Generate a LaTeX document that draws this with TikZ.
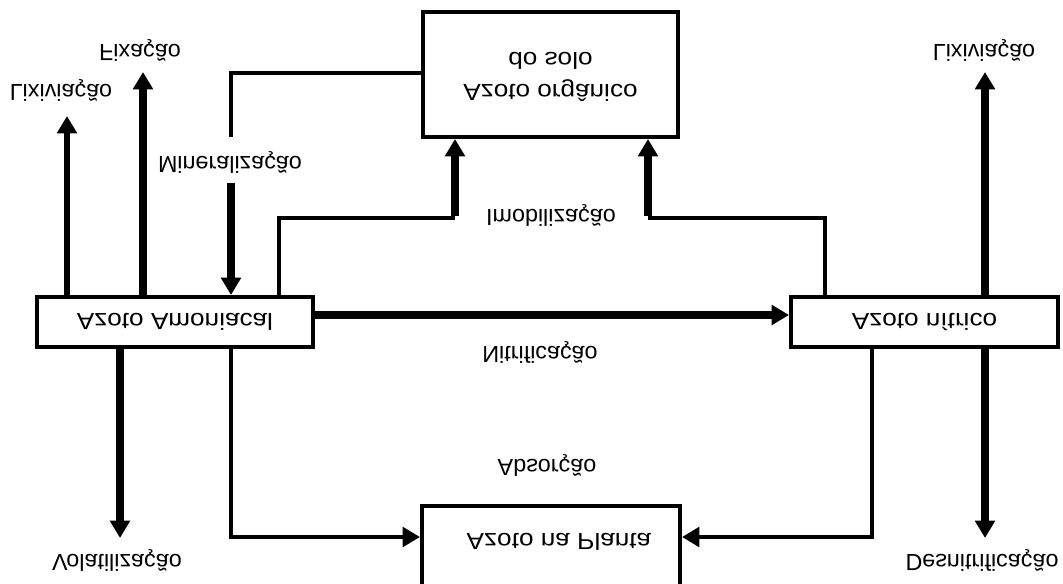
\documentclass[tikz,border=0pt]{standalone}
\usepackage{fontspec}
\setmainfont{Liberation Sans}
\usetikzlibrary{arrows.meta}
\newcommand{\fliptext}[1]{\scalebox{1}[-1]{#1}}
\newcommand{\flipwide}[1]{\scalebox{1.12}[-1]{#1}}
\begin{document}
\begin{tikzpicture}[x=0.75pt,y=-0.75pt,
  txt/.style={font=\fontsize{17.5}{24}\selectfont, inner sep=0pt},
  box/.style={draw, line width=3pt, inner sep=0pt, font=\fontsize{17.5}{24}\selectfont},
  thinln/.style={line width=3.5pt},
  medln/.style={line width=4.5pt},
  thickln/.style={line width=6pt},
  arr/.style={-{Triangle[width=14.5pt,length=13pt]}}]
\clip (0,0) rectangle (1063,584);
\useasboundingbox (0,0) rectangle (1063,584);
% boxes
\node[box, minimum width=191.25pt, minimum height=93.75pt] (org) at (550.5,74.5)
  {\flipwide{\begin{tabular}{@{}c@{}}Azoto orgânico\\do solo\end{tabular}}};
\node[box, minimum width=207pt, minimum height=37.5pt] (amo) at (175,322) {\flipwide{Azoto Amoniacal}};
\node[box, minimum width=200.25pt, minimum height=37.5pt] (nit) at (924.5,322) {\flipwide{Azoto nítrico}};
\node[box, minimum width=193.5pt, minimum height=150pt] (pla) at (551,606) {};
\node[txt] (platxt) at (559,542) {\flipwide{Azoto na Planta}};
% labels
\node[txt] (tlixL) at (61,90) {\fliptext{Lixiviação}};
\node[txt] (tfix) at (140,50) {\fliptext{Fixação}};
\node[txt] (tmin) at (230,162) {\fliptext{Mineralização}};
\node[txt] (timo) at (551,215) {\fliptext{Imobilização}};
\node[txt] (tlixR) at (984,50) {\fliptext{Lixiviação}};
\node[txt] (tnit) at (540,352) {\fliptext{Nitrificação}};
\node[txt] (tabs) at (547,465) {\fliptext{Absorção}};
\node[txt] (tvol) at (117,560) {\fliptext{Volatilização}};
\node[txt] (tdes) at (982,560) {\fliptext{Desnitrificação}};
% coordinates
\coordinate (lixL) at (67,116);
\coordinate (fix) at (143,72);
\coordinate (lixR) at (985,72);
\coordinate (vol) at (120,538);
\coordinate (des) at (985,538);
\coordinate (m1) at (231,73);
\coordinate (m2) at (231,137);
\coordinate (m3) at (231,183);
\coordinate (i1) at (279,218);
\coordinate (i2) at (455,218);
\coordinate (j1) at (825,218);
\coordinate (j2) at (648,218);
\coordinate (ny) at (0,315);
\coordinate (a1) at (231,537);
\coordinate (b1) at (872,537);
% connectors
\draw[medln,arr] (amo.north -| lixL) -- (lixL);
\draw[thickln,arr] (amo.north -| fix) -- (fix);
\draw[thickln,arr] (nit.north -| lixR) -- (lixR);
\draw[thickln,arr] (amo.south -| vol) -- (vol);
\draw[thickln,arr] (nit.south -| des) -- (des);
\draw[thinln] (org.west |- m1) -- (m1) -- (m2);
\draw[thickln,arr] (m3) -- (amo.north -| m3);
\draw[thinln] (amo.north -| i1) -- (i1) -- (i2);
\draw[thickln,arr] ([yshift=1.75pt]i2) -- (org.south -| i2);
\draw[thinln] (nit.north -| j1) -- (j1) -- (j2);
\draw[thickln,arr] ([yshift=1.75pt]j2) -- (org.south -| j2);
\draw[thickln,arr] (amo.east |- ny) -- (nit.west |- ny);
\draw[thinln,arr] (amo.south -| a1) -- (a1) -- (pla.west |- a1);
\draw[thinln,arr] (nit.south -| b1) -- (b1) -- (pla.east |- b1);
\end{tikzpicture}
\end{document}
